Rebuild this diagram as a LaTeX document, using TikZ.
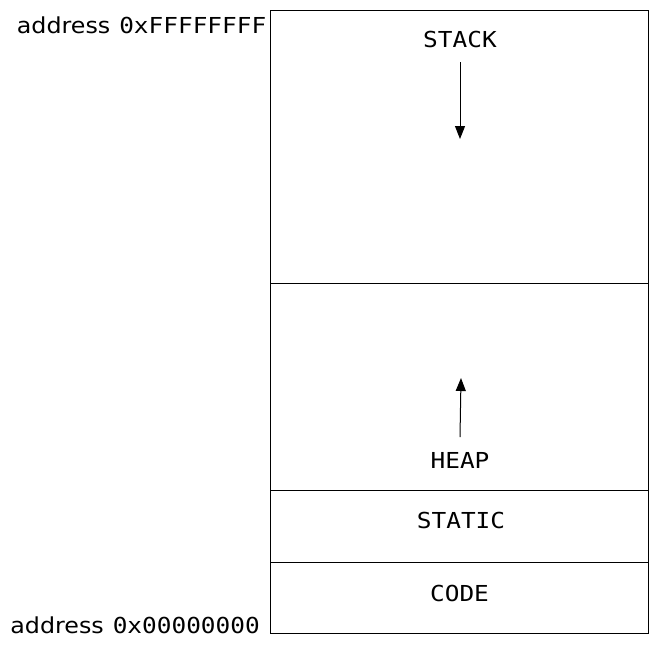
\documentclass[tikz,border=0pt]{standalone}
\usepackage{fontspec}
\usepackage{graphicx}
\setmainfont{DejaVu Sans}
\setmonofont{DejaVu Sans Mono}
\usetikzlibrary{arrows.meta}
\newcommand{\monotxt}[1]{\scalebox{1.11}[1]{\fontsize{22}{26}\selectfont\ttfamily #1}}
\newcommand{\addrword}{\scalebox{1.08}[1]{\fontsize{22}{26}\selectfont address}}
\begin{document}
\begin{tikzpicture}[x=1pt,y=-1pt,
  seg/.style={draw=black, line width=1pt, minimum width=378pt, inner sep=0pt, outer sep=0pt},
  lbl/.style={inner sep=0pt, anchor=base},
  addr/.style={inner sep=0pt, anchor=base east},
  growarrow/.style={line width=1pt, -{Triangle[length=13pt,width=10pt]}}]
\useasboundingbox (0,0) rectangle (656,645);
\node[seg, minimum height=273pt] (stackseg) at (459,146.5) {};
\node[seg, minimum height=207pt] (heapseg) at (459,386.5) {};
\node[seg, minimum height=72pt] (staticseg) at (459,526) {};
\node[seg, minimum height=71pt] (codeseg) at (459,597.5) {};
\node[lbl] (stack) at (460,47.5) {\monotxt{STACK}};
\node[lbl] (heap) at (460,468) {\monotxt{HEAP}};
\node[lbl] (static) at (461,528) {\monotxt{STATIC}};
\node[lbl] (code) at (459.5,601) {\monotxt{CODE}};
\coordinate (stackstart) at (460,62);
\coordinate (stackend) at (460,139);
\coordinate (heapstart) at (460,437);
\coordinate (heapend) at (461,378);
\draw[growarrow] (stackstart) -- (stackend);
\draw[growarrow] (heapstart) -- (heapend);
\node[addr] (top) at (266.5,33) {\addrword\hspace{9pt}\monotxt{0xFFFFFFFF}};
\node[addr] (bot) at (260,633) {\addrword\hspace{9pt}\monotxt{0x00000000}};
\end{tikzpicture}
\end{document}
